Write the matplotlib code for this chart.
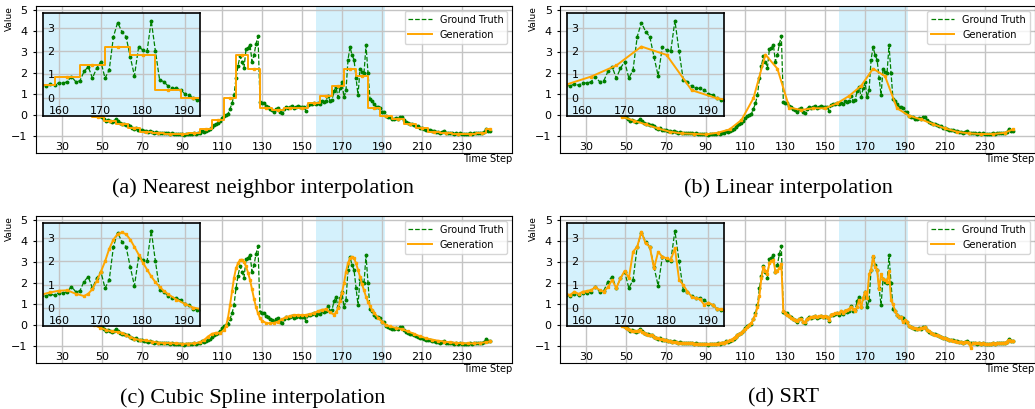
import matplotlib.pyplot as plt
import numpy as np

# ---------------- data ----------------
steps = np.arange(28, 245)

ground_truth = [
    0.95, 0.90, 0.86, 0.92, 0.80, 0.76, 0.70, 0.74, 0.62, 0.56,
    0.50, 0.54, 0.45, 0.40, 0.36, 0.30, 0.26, 0.20, 0.14, 0.08,
    -0.02, -0.05, -0.10, -0.20, -0.28, -0.25, -0.30, -0.32, -0.30, -0.20,
    -0.30, -0.38, -0.42, -0.45, -0.50, -0.48, -0.55, -0.62, -0.65, -0.63,
    -0.70, -0.72, -0.70, -0.75, -0.78, -0.80, -0.78, -0.82, -0.85, -0.83,
    -0.86, -0.88, -0.85, -0.87, -0.84, -0.88, -0.90, -0.88, -0.90, -0.92,
    -0.91, -0.93, -0.92, -0.94, -0.93, -0.91, -0.90, -0.92, -0.88, -0.90,
    -0.86, -0.85, -0.78, -0.80, -0.76, -0.72, -0.65, -0.58, -0.50, -0.45,
    -0.38, -0.30, -0.15, -0.05, 0.00, 0.05, 0.30, 0.55, 0.95, 1.75,
    2.35, 2.80, 2.55, 2.25, 3.15, 3.20, 3.35, 2.55, 2.85, 3.40,
    3.75, 0.62, 0.58, 0.56, 0.45, 0.40, 0.30, 0.25, 0.15, 0.30,
    0.32, 0.12, 0.10, 0.30, 0.40, 0.35, 0.38, 0.42, 0.35, 0.40,
    0.42, 0.38, 0.40, 0.40, 0.18, 0.48, 0.50, 0.52, 0.55, 0.50,
    0.59, 0.53, 0.65, 0.62, 0.69, 0.91, 0.69, 0.72, 1.13, 1.34,
    0.84, 1.27, 1.56, 0.84, 1.20, 2.64, 3.25, 2.86, 2.64, 1.77,
    0.94, 2.20, 2.06, 2.00, 3.33, 2.00, 0.76, 0.69, 0.50, 0.40,
    0.40, 0.33, 0.16, 0.12, -0.04, -0.10, -0.12, -0.18, -0.20, -0.15,
    -0.18, -0.10, -0.08, -0.25, -0.32, -0.38, -0.42, -0.45, -0.50, -0.52,
    -0.55, -0.60, -0.62, -0.65, -0.70, -0.72, -0.74, -0.76, -0.78, -0.80,
    -0.82, -0.84, -0.80, -0.76, -0.85, -0.86, -0.88, -0.87, -0.89, -0.88,
    -0.90, -0.88, -0.91, -0.90, -0.92, -0.90, -0.88, -0.90, -0.87, -0.86,
    -0.88, -0.85, -0.86, -0.82, -0.68, -0.78, -0.76,
]

srt = [
    0.93, 0.90, 0.88, 0.88, 0.82, 0.76, 0.72, 0.72, 0.64, 0.57,
    0.52, 0.52, 0.46, 0.41, 0.36, 0.31, 0.26, 0.20, 0.14, 0.08,
    -0.05, -0.06, -0.12, -0.18, -0.26, -0.28, -0.30, -0.31, -0.28, -0.24,
    -0.32, -0.36, -0.42, -0.46, -0.48, -0.50, -0.56, -0.60, -0.64, -0.66,
    -0.68, -0.72, -0.73, -0.76, -0.77, -0.80, -0.80, -0.83, -0.84, -0.85,
    -0.85, -0.87, -0.86, -0.88, -0.86, -0.87, -0.89, -0.89, -0.90, -0.90,
    -0.92, -0.92, -0.93, -0.92, -0.92, -0.90, -0.91, -0.90, -0.89, -0.88,
    -0.85, -0.84, -0.80, -0.78, -0.74, -0.70, -0.64, -0.56, -0.50, -0.42,
    -0.36, -0.28, -0.18, -0.08, 0.02, 0.10, 0.28, 0.50, 0.85, 1.40,
    2.25, 2.75, 2.60, 2.45, 2.95, 3.05, 3.10, 2.55, 2.60, 2.70,
    2.90, 0.65, 0.58, 0.50, 0.45, 0.35, 0.30, 0.22, 0.18, 0.28,
    0.30, 0.15, 0.15, 0.28, 0.35, 0.38, 0.40, 0.42, 0.38, 0.42,
    0.45, 0.40, 0.42, 0.38, 0.25, 0.50, 0.52, 0.55, 0.58, 0.55,
    0.69, 0.59, 0.69, 0.72, 0.76, 0.88, 0.76, 0.69, 0.88, 1.20,
    0.84, 1.27, 1.59, 1.27, 2.42, 2.64, 3.29, 2.78, 2.64, 1.70,
    2.42, 2.20, 2.14, 2.06, 2.57, 1.20, 0.98, 0.69, 0.48, 0.40,
    0.36, 0.12, 0.22, 0.12, -0.04, -0.08, -0.12, -0.16, -0.18, -0.17,
    -0.16, -0.12, -0.10, -0.22, -0.30, -0.36, -0.42, -0.46, -0.50, -0.53,
    -0.56, -0.60, -0.63, -0.66, -0.70, -0.72, -0.75, -0.77, -0.79, -0.81,
    -0.83, -0.84, -0.82, -0.80, -0.84, -1.08, -0.86, -0.87, -0.88, -0.87,
    -0.89, -0.88, -0.90, -0.90, -0.91, -0.89, -0.88, -0.89, -0.87, -0.86,
    -0.87, -0.85, -0.85, -0.80, -0.72, -0.76, -0.75,
]

# down-sampled points used by nearest / linear interpolation
sample_x = [30, 36, 42, 48, 54, 60, 66, 72, 78, 84, 90, 96, 102, 108, 114,
            120, 126, 132, 138, 144, 150, 156, 162, 168, 174, 180, 186, 192,
            198, 204, 210, 216, 222, 228, 234, 240, 244]
sample_y = [0.85, 0.60, 0.20, -0.08, -0.27, -0.45, -0.64, -0.80, -0.88, -0.90,
            -0.93, -0.85, -0.69, -0.24, 0.80, 2.88, 2.21, 0.35, 0.24, 0.32,
            0.32, 0.56, 0.91, 1.39, 2.21, 1.85, 0.32, -0.03, -0.21, -0.43,
            -0.64, -0.80, -0.88, -0.91, -0.91, -0.85, -0.69]

# cubic spline curve
cubic_x = [28, 34, 40, 44, 46, 49, 52, 55, 58, 60, 62, 64, 66, 69, 72, 75, 78,
           81, 84, 87, 90, 93, 96, 99, 101, 103, 105, 107, 109, 111, 112, 113,
           114, 115, 116, 117, 118, 119, 120, 121, 122, 123, 124, 125, 126,
           127, 128, 129, 130, 132, 134, 136, 138, 140, 142, 144, 146, 148,
           150, 152, 154, 156, 158, 160, 162, 164, 166, 167, 168, 169, 170,
           171, 172, 173, 174, 175, 176, 177, 178, 179, 180, 181, 182, 183,
           184, 185, 186, 188, 190, 192, 194, 197, 200, 203, 206, 209, 212,
           215, 218, 221, 224, 227, 230, 233, 236, 239, 242, 244]
cubic_y = [0.90, 0.80, 0.50, 0.15, -0.01, -0.12, -0.24, -0.31, -0.34, -0.38,
           -0.48, -0.58, -0.65, -0.72, -0.74, -0.79, -0.84, -0.86, -0.86,
           -0.88, -0.90, -0.89, -0.88, -0.83, -0.72, -0.55, -0.42, -0.37,
           -0.38, -0.25, -0.05, 0.35, 0.95, 1.60, 2.25, 2.70, 2.95, 3.10,
           3.12, 3.00, 2.80, 2.50, 2.15, 1.70, 1.25, 0.85, 0.55, 0.32, 0.20,
           0.10, 0.08, 0.10, 0.16, 0.27, 0.37, 0.43, 0.47, 0.48, 0.47, 0.48,
           0.51, 0.57, 0.66, 0.73, 0.75, 0.60, 0.50, 0.60, 0.80, 1.15, 1.55,
           2.00, 2.55, 2.95, 3.19, 3.26, 3.18, 2.95, 2.63, 2.30, 1.95, 1.65,
           1.35, 1.10, 0.90, 0.72, 0.58, 0.35, 0.16, 0.00, -0.07, -0.14,
           -0.20, -0.31, -0.42, -0.54, -0.63, -0.70, -0.75, -0.79, -0.83,
           -0.85, -0.87, -0.88, -0.88, -0.86, -0.82, -0.78]

captions = ["(a) Nearest neighbor interpolation", "(b) Linear interpolation",
            "(c) Cubic Spline interpolation", "(d) SRT"]

# ---------------- figure ----------------
shade = "#d4f1fc"
grid_kw = dict(color="#c4c4c4", linewidth=1.0)

fig = plt.figure(figsize=(10.35, 4.09), dpi=100)

panels = [
    ([0.0348, 0.6267, 0.4599, 0.3586], (sample_x, sample_y, "steps-mid")),
    ([0.5411, 0.6267, 0.4585, 0.3586], (sample_x, sample_y, "default")),
    ([0.0348, 0.1132, 0.4599, 0.3586], (cubic_x, cubic_y, "default")),
    ([0.5411, 0.1132, 0.4585, 0.3586], (steps, srt, "default")),
]
caption_pos = [(263, 187.7), (788, 187.7), (253, 397.7), (783, 397.7)]


def draw_lines(ax, gen):
    gx, gy, ds = gen
    ax.plot(steps, ground_truth, color="green", linestyle="--", linewidth=0.9,
            marker="o", markersize=1.8, label="Ground Truth")
    ax.plot(gx, gy, color="orange", linewidth=1.4, drawstyle=ds,
            marker="s", markersize=1.6, label="Generation")


for (rect, gen), cap, cpos in zip(panels, captions, caption_pos):
    ax = fig.add_axes(rect)
    ax.axvspan(157, 191.5, color=shade, linewidth=0, zorder=0.5)
    draw_lines(ax, gen)
    ax.set_xlim(17, 255)
    ax.set_ylim(-1.8, 5.2)
    ax.set_xticks(range(30, 231, 20))
    ax.set_yticks(range(-1, 6))
    ax.grid(True, **grid_kw)
    ax.tick_params(axis="x", direction="in", pad=-7.5, labelsize=8, length=0)
    ax.tick_params(axis="y", labelsize=8, length=2.5)
    ax.set_xlabel("Time Step", loc="right", fontsize=7, labelpad=1)
    ax.set_ylabel("Value", loc="top", fontsize=6.5, labelpad=-2)
    leg = ax.legend(loc="upper right", fontsize=7, handlelength=2.4)
    for h in leg.get_lines():
        h.set_marker("None")

    # zoomed view of the shaded window
    ins = ax.inset_axes([0.0153, 0.25, 0.33, 0.70])
    ins.set_facecolor(shade)
    draw_lines(ins, gen)
    ins.set_xlim(156.3, 193.7)
    ins.set_ylim(-0.8, 3.65)
    ins.set_xticks([160, 170, 180, 190])
    ins.set_yticks([0, 1, 2, 3])
    ins.grid(True, **grid_kw)
    ins.tick_params(axis="x", direction="in", pad=-7.5, labelsize=8, length=0)
    ins.tick_params(axis="y", direction="in", pad=-8, labelsize=8, length=0)
    for s in ins.spines.values():
        s.set_linewidth(1.2)

    fig.text(cpos[0] / 1035, 1 - cpos[1] / 409, cap, ha="center", va="center",
             fontsize=16, family="Liberation Serif")

plt.savefig("out.png", dpi=100)
